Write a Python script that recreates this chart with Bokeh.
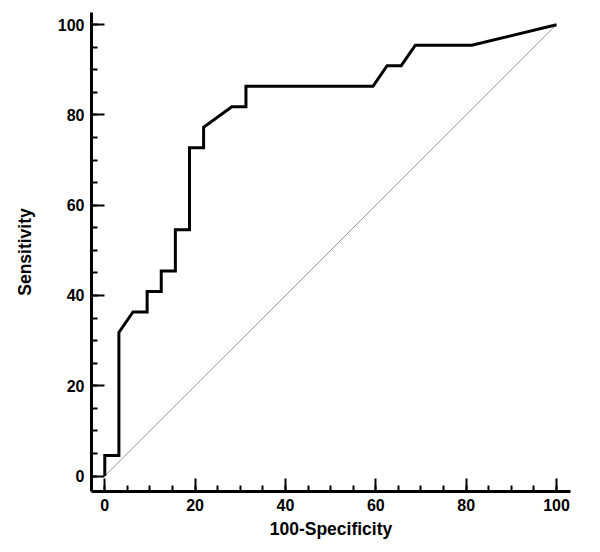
from bokeh.plotting import figure
from bokeh.models import Range1d, SingleIntervalTicker
from bokeh.embed import file_html
from bokeh.resources import INLINE

# ROC curve points (100-Specificity, Sensitivity)
fpr = [0, 0, 3.125, 3.125, 6.25, 9.375, 9.375, 12.5, 12.5, 15.625, 15.625,
       18.75, 18.75, 21.875, 21.875, 28.125, 31.25, 31.25, 59.375, 62.5,
       65.625, 68.75, 81.25, 100]
tpr = [0, 4.55, 4.55, 31.82, 36.36, 36.36, 40.91, 40.91, 45.45, 45.45, 54.55,
       54.55, 72.73, 72.73, 77.27, 81.82, 81.82, 86.36, 86.36, 90.91,
       90.91, 95.45, 95.45, 100]
diag_x = [0, 100]
diag_y = [0, 100]

FONT = "Liberation Sans"

p = figure(width=592, height=544, output_backend="svg", toolbar_location=None,
           x_range=Range1d(-2.94, 103.1), y_range=Range1d(-3.43, 102.7),
           min_border_left=91, min_border_right=22, min_border_top=12,
           min_border_bottom=53, background_fill_color="white",
           border_fill_color="white")
p.outline_line_color = None
p.grid.visible = False

p.line(diag_x, diag_y, line_color="#9a9a9a", line_width=1)
p.line(fpr, tpr, line_color="black", line_width=3, line_join="miter")

for ax, label in ((p.xaxis[0], "100-Specificity"), (p.yaxis[0], "Sensitivity")):
    ax.ticker = SingleIntervalTicker(interval=20, num_minor_ticks=4)
    ax.axis_line_width = 3
    ax.axis_line_color = "black"
    ax.major_tick_in = 13
    ax.major_tick_out = 0
    ax.minor_tick_in = 6
    ax.minor_tick_out = 0
    ax.major_tick_line_width = 2
    ax.minor_tick_line_width = 2
    ax.major_tick_line_color = "black"
    ax.minor_tick_line_color = "black"
    ax.major_label_text_font = FONT
    ax.major_label_text_font_style = "bold"
    ax.major_label_text_font_size = "16px"
    ax.major_label_text_color = "black"
    ax.major_label_standoff = 7
    ax.axis_label = label
    ax.axis_label_text_font = FONT
    ax.axis_label_text_font_style = "bold"
    ax.axis_label_text_font_size = "17.5px"
    ax.axis_label_text_color = "black"

p.xaxis[0].axis_label_standoff = 5
p.yaxis[0].axis_label_standoff = 20

open("out.html", "w").write(file_html(p, INLINE))
